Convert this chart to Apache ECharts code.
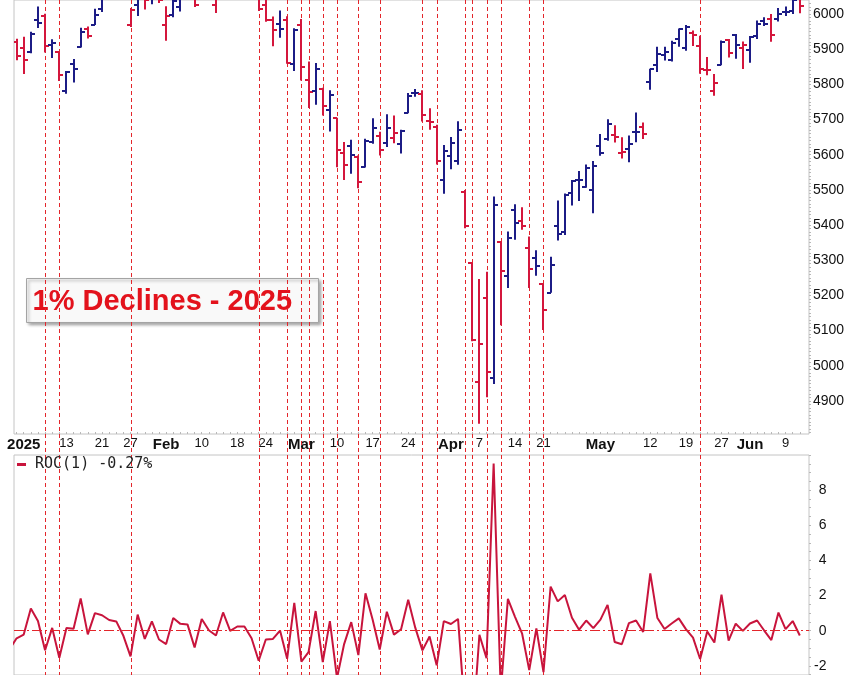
<!DOCTYPE html>
<html><head><meta charset="utf-8">
<script src="https://cdn.jsdelivr.net/npm/echarts@6/dist/echarts.min.js"></script>
<style>html,body{margin:0;padding:0;background:#fff}#c{width:850px;height:675px}</style>
</head><body><div id="c"></div>
<script>
const dates = ['Dec 30','Dec 31','Jan 2','Jan 3',
'Jan 6','Jan 7','Jan 8','Jan 10',
'Jan 13','Jan 14','Jan 15','Jan 16','Jan 17',
'Jan 21','Jan 22','Jan 23','Jan 24',
'Jan 27','Jan 28','Jan 29','Jan 30','Jan 31',
'Feb 3','Feb 4','Feb 5','Feb 6','Feb 7',
'Feb 10','Feb 11','Feb 12','Feb 13','Feb 14',
'Feb 18','Feb 19','Feb 20','Feb 21',
'Feb 24','Feb 25','Feb 26','Feb 27','Feb 28',
'Mar 3','Mar 4','Mar 5','Mar 6','Mar 7',
'Mar 10','Mar 11','Mar 12','Mar 13','Mar 14',
'Mar 17','Mar 18','Mar 19','Mar 20','Mar 21',
'Mar 24','Mar 25','Mar 26','Mar 27','Mar 28',
'Mar 31','Apr 1','Apr 2','Apr 3','Apr 4',
'Apr 7','Apr 8','Apr 9','Apr 10','Apr 11',
'Apr 14','Apr 15','Apr 16','Apr 17',
'Apr 21','Apr 22','Apr 23','Apr 24','Apr 25',
'Apr 28','Apr 29','Apr 30','May 1','May 2',
'May 5','May 6','May 7','May 8','May 9',
'May 12','May 13','May 14','May 15','May 16',
'May 19','May 20','May 21','May 22','May 23',
'May 27','May 28','May 29','May 30',
'Jun 2','Jun 3','Jun 4','Jun 5','Jun 6',
'Jun 9','Jun 10','Jun 11'];

const opens = [5920.67,5919.74,5903.26,5891.07,
5982.81,5993.26,5910.66,5890.58,
5782.34,5859.17,5905.21,5958.69,5969.29,
6014.12,6081.39,6076.32,6121.43,
5969.04,6026.97,6057.70,6050.75,6096.79,
5969.65,5998.14,6020.45,6072.22,6083.13,
6046.40,6049.32,6025.08,6060.59,6115.52,
6121.60,6117.76,6134.50,6114.10,
6026.69,5982.73,5970.87,5981.88,5856.74,
5968.33,5811.98,5781.31,5785.87,5726.85,
5705.37,5603.65,5624.84,5594.45,5563.85,
5635.60,5654.53,5632.37,5646.92,5630.73,
5718.08,5775.86,5771.66,5695.64,5679.02,
5527.91,5597.53,5580.76,5492.74,5292.14,
4953.79,5193.57,4965.28,5353.15,5255.56,
5441.96,5411.99,5335.75,5305.45,
5232.94,5207.67,5395.92,5381.38,5489.73,
5529.22,5508.87,5499.44,5625.14,5645.45,
5655.32,5605.88,5614.93,5663.44,5679.08,
5807.74,5854.00,5882.57,5869.47,5929.30,
5902.88,5944.66,5910.07,5841.26,5781.89,
5854.07,5925.43,5939.92,5903.67,
5896.68,5938.56,5978.94,5985.67,5987.06,
6004.60,6009.91,6049.38];

const highs = [5940.79,5929.74,5935.09,5949.34,
6021.04,6000.68,5927.89,5891.00,
5838.00,5871.92,5960.61,5964.69,6014.96,
6051.51,6100.81,6118.73,6128.18,
6017.17,6069.88,6062.83,6086.64,6120.91,
6022.13,6042.48,6062.86,6084.03,6101.28,
6073.38,6076.28,6063.09,6116.91,6127.47,
6129.63,6147.43,6134.50,6114.82,
6043.65,5992.65,6009.82,5993.69,5959.40,
5986.09,5865.08,5860.59,5790.00,5783.01,
5705.37,5636.30,5642.19,5597.78,5645.27,
5703.52,5665.00,5715.33,5711.15,5670.84,
5775.14,5786.95,5783.00,5732.28,5685.00,
5627.56,5650.57,5695.31,5499.53,5292.14,
5246.57,5267.47,5481.34,5353.15,5381.46,
5459.46,5450.41,5367.24,5328.31,
5232.94,5309.60,5469.69,5489.40,5528.11,
5553.66,5571.95,5581.84,5658.91,5700.70,
5683.43,5649.85,5654.63,5720.10,5691.68,
5844.19,5906.63,5906.93,5924.21,5958.62,
5968.61,5953.06,5938.37,5878.08,5829.51,
5924.33,5929.03,5943.13,5922.14,
5937.40,5981.35,5990.48,5999.70,6016.87,
6021.31,6043.01,6059.40];

const lows = [5869.16,5868.86,5829.53,5888.66,
5960.01,5890.68,5874.78,5809.23,
5773.31,5805.27,5905.00,5930.00,5969.00,
6006.00,6076.32,6074.67,6088.74,
5962.92,5994.37,6012.96,6027.46,6030.93,
5923.93,5990.87,6007.06,6046.83,6019.96,
6044.84,6042.34,6003.00,6051.04,6107.62,
6099.51,6111.15,6084.59,6008.56,
5977.83,5908.49,5932.69,5858.78,5837.66,
5810.91,5732.59,5742.35,5711.64,5666.29,
5564.02,5528.41,5546.09,5504.65,5563.85,
5631.12,5597.76,5622.20,5632.83,5603.10,
5718.08,5764.44,5694.41,5670.94,5572.42,
5488.73,5558.52,5571.48,5390.83,5069.90,
4835.04,4910.42,4948.43,5115.27,5220.77,
5358.02,5386.44,5220.79,5255.58,
5101.63,5207.67,5356.31,5371.96,5455.86,
5468.64,5505.70,5433.24,5597.35,5639.82,
5634.48,5589.08,5578.64,5635.67,5644.37,
5784.33,5835.00,5868.00,5865.21,5907.00,
5895.69,5909.26,5830.00,5825.82,5767.41,
5854.07,5876.00,5873.00,5843.66,
5861.43,5929.00,5966.11,5921.20,5978.63,
5994.18,6000.26,6002.32];

const closes = [5906.94,5881.63,5868.55,5942.47,
5975.38,5909.03,5918.25,5827.04,
5836.22,5842.91,5949.91,5937.34,5996.66,
6049.24,6086.37,6118.71,6101.24,
6012.28,6067.70,6039.31,6071.17,6040.53,
5994.57,6037.88,6061.48,6083.57,6025.99,
6066.44,6068.50,6051.97,6115.07,6114.63,
6129.58,6144.15,6117.52,6013.13,
5983.25,5955.25,5956.06,5861.57,5954.50,
5849.72,5778.15,5842.63,5738.52,5770.20,
5614.56,5572.07,5599.30,5521.52,5638.94,
5675.12,5614.66,5675.29,5662.89,5667.56,
5767.57,5776.65,5712.20,5693.31,5580.94,
5611.85,5633.07,5670.97,5396.52,5074.08,
5062.25,4982.77,5456.90,5268.05,5363.36,
5405.97,5396.63,5275.70,5282.70,
5158.20,5287.76,5375.86,5484.77,5525.21,
5528.75,5560.83,5569.06,5604.14,5686.67,
5650.38,5606.91,5631.28,5663.94,5659.91,
5844.19,5886.55,5892.58,5916.93,5958.38,
5963.60,5940.46,5844.61,5842.01,5802.82,
5921.54,5888.55,5912.17,5911.69,
5935.94,5970.37,5970.81,5939.30,6000.36,
6005.88,6038.81,6022.24];

const roc = [-1.07,-0.43,-0.22,1.26,
0.55,-1.11,0.16,-1.54,
0.16,0.11,1.83,-0.21,1.00,
0.88,0.61,0.53,-0.29,
-1.46,0.92,-0.47,0.53,-0.50,
-0.76,0.72,0.39,0.36,-0.95,
0.67,0.03,-0.27,1.04,-0.01,
0.24,0.24,-0.43,-1.71,
-0.50,-0.47,0.01,-1.59,1.59,
-1.76,-1.22,1.12,-1.78,0.55,
-2.70,-0.76,0.49,-1.39,2.13,
0.64,-1.07,1.08,-0.22,0.08,
1.76,0.16,-1.12,-0.33,-1.97,
0.55,0.38,0.67,-4.84,-5.97,
-0.23,-1.57,9.52,-3.46,1.81,
0.79,-0.17,-2.24,0.13,
-2.36,2.51,1.67,2.03,0.74,
0.06,0.58,0.15,0.63,1.47,
-0.64,-0.77,0.43,0.58,-0.07,
3.26,0.72,0.10,0.41,0.70,
0.09,-0.39,-1.61,-0.04,-0.67,
2.05,-0.56,0.40,-0.01,
0.41,0.58,0.01,-0.53,1.03,
0.09,0.55,-0.27];

const declineDates = ['Jan 7','Jan 10','Jan 27','Feb 21','Feb 27','Mar 3','Mar 4','Mar 6','Mar 10','Mar 13',
'Mar 18','Mar 26','Mar 28','Apr 3','Apr 4','Apr 8','Apr 10','Apr 16','Apr 21','May 21'];

const tickDates = ['Jan 2','Jan 13','Jan 21','Jan 27','Feb 3','Feb 10','Feb 18','Feb 24','Mar 3','Mar 10','Mar 17',
'Mar 24','Apr 1','Apr 7','Apr 14','Apr 21','May 1','May 12','May 19','May 27','Jun 2','Jun 9'];
const tickTexts = ['2025','13','21','27','Feb','10','18','24','Mar','10','17',
'24','Apr','7','14','21','May','12','19','27','Jun','9'];
const boldTicks = ['2025','Feb','Mar','Apr','May','Jun'];

const priceTicks = [4900,5000,5100,5200,5300,5400,5500,5600,5700,5800,5900,6000];
const rocTicks = [-2,0,2,4,6,8];
const rocName = 'ROC(1) -0.27%';
const titleText = '1% Declines - 2025';

const UP = '#1c1c86', DOWN = '#d4163c', ROCC = '#c8143c', DASH = '#e3262b';
const FONT = '"Liberation Sans", Arial, sans-serif';

const tickMap = {};
tickDates.forEach((d, k) => { tickMap[dates.indexOf(d)] = tickTexts[k]; });
const tickIdx = tickDates.map(d => dates.indexOf(d));
const allIdx = dates.map((d, i) => i);

const ohlc = dates.map((d, i) => [i, opens[i], highs[i], lows[i], closes[i],
  i > 0 && closes[i] >= closes[i - 1] ? 1 : 0]);

const priceMinor = [];
for (let v = 4810; v <= 6030; v += 10) priceMinor.push(v);
const rocMinor = [];
for (let v = -2.5; v <= 10; v += 0.5) rocMinor.push(v);

const chart = echarts.init(document.getElementById('c'), null, {renderer: 'canvas'});
chart.setOption({
  animation: false,
  backgroundColor: '#fff',
  grid: [
    {left: 14, right: 41, top: 0, height: 434, show: true, borderColor: '#c4c4c4', borderWidth: 1},
    {left: 14, right: 41, top: 455, height: 220, show: true, borderColor: '#c4c4c4', borderWidth: 1}
  ],
  legend: {
    data: [rocName], left: 12, top: 452, icon: 'rect', itemWidth: 9, itemHeight: 3,
    textStyle: {fontFamily: '"DejaVu Sans Mono", monospace', fontSize: 15, color: '#222', padding: [0, 0, 0, 4]},
    selectedMode: false
  },
  xAxis: [
    {type: 'value', gridIndex: 0, min: 0.635, max: 112.29, position: 'bottom',
      axisLine: {show: false}, splitLine: {show: false},
      axisTick: {show: true, customValues: allIdx, inside: true, length: 2, lineStyle: {color: '#b8b8b8'}},
      axisLabel: {customValues: tickIdx, margin: 3, color: '#111', fontFamily: FONT, fontSize: 13,
        formatter: v => { const t = tickMap[Math.round(v)] || ''; return boldTicks.includes(t) ? '{b|' + t + '}' : '{n|' + t + '}'; },
        rich: {b: {fontWeight: 'bold', fontSize: 15, fontFamily: FONT, color: '#111'},
               n: {fontSize: 13, fontFamily: FONT, color: '#111'}}}},
    {type: 'value', gridIndex: 1, min: 0.635, max: 112.29, position: 'bottom',
      axisLine: {show: false}, splitLine: {show: false}, axisTick: {show: false}, axisLabel: {show: false}}
  ],
  yAxis: [
    {type: 'value', gridIndex: 0, position: 'right', min: 4806, max: 6039.8,
      axisLine: {show: false}, splitLine: {show: false},
      axisTick: {show: true, customValues: priceMinor, length: 2, lineStyle: {color: '#b8b8b8'}},
      axisLabel: {customValues: priceTicks, margin: 4, color: '#111', fontFamily: FONT, fontSize: 14,
        formatter: v => String(v)}},
    {type: 'value', gridIndex: 1, position: 'right', min: -2.52, max: 10,
      axisLine: {show: false}, splitLine: {show: false},
      axisTick: {show: true, customValues: rocMinor, length: 2, lineStyle: {color: '#b8b8b8'}},
      axisLabel: {customValues: rocTicks, margin: 17.5, align: 'right', color: '#111', fontFamily: FONT, fontSize: 14,
        formatter: v => String(v)}}
  ],
  graphic: [{
    type: 'group', left: 26, top: 278, z: 100,
    children: [
      {type: 'rect', shape: {x: 0, y: 0, width: 292, height: 44},
        style: {fill: '#f9f9f9', stroke: '#a4a4a4', lineWidth: 1, shadowBlur: 3, shadowOffsetX: 2, shadowOffsetY: 2, shadowColor: 'rgba(0,0,0,0.35)'}},
      {type: 'text', x: 6, y: 23,
        style: {text: titleText, fontFamily: FONT, fontWeight: 'bold', fontSize: 29, fill: '#e3121c', verticalAlign: 'middle', textAlign: 'left'}}
    ]
  }],
  series: [
    {type: 'custom', name: 'declines', xAxisIndex: 0, yAxisIndex: 0, clip: false, silent: true, z: 1,
      data: declineDates.map(d => [dates.indexOf(d)]),
      renderItem: (params, api) => {
        const x = Math.round(api.coord([api.value(0), 5500])[0]) + 0.5;
        return {type: 'line', shape: {x1: x, y1: 0, x2: x, y2: api.getHeight()},
          style: {stroke: DASH, lineWidth: 1, lineDash: [4, 3]}};
      }},
    {type: 'custom', name: 'S&P 500', xAxisIndex: 0, yAxisIndex: 0, clip: true, z: 3,
      data: ohlc,
      renderItem: (params, api) => {
        const i = api.value(0);
        const x = Math.round(api.coord([i, 5500])[0]);
        const yo = Math.round(api.coord([i, api.value(1)])[1]);
        const yh = api.coord([i, api.value(2)])[1];
        const yl = api.coord([i, api.value(3)])[1];
        const yc = Math.round(api.coord([i, api.value(4)])[1]);
        const col = api.value(5) ? UP : DOWN;
        const st = {stroke: col, lineWidth: 2};
        return {type: 'group', children: [
          {type: 'line', shape: {x1: x, y1: yh, x2: x, y2: yl}, style: st},
          {type: 'line', shape: {x1: x - 4, y1: yo, x2: x, y2: yo}, style: st},
          {type: 'line', shape: {x1: x, y1: yc, x2: x + 4, y2: yc}, style: st}
        ]};
      }},
    {type: 'line', name: rocName, xAxisIndex: 1, yAxisIndex: 1, z: 3,
      data: roc.map((v, i) => [i, v]), showSymbol: false, symbol: 'none',
      lineStyle: {color: ROCC, width: 2}, itemStyle: {color: ROCC},
      markLine: {symbol: 'none', silent: true, label: {show: false},
        lineStyle: {color: DASH, type: [10, 3, 2, 3], width: 1}, data: [{yAxis: 0}]}}
  ]
});
</script>
</body></html>
